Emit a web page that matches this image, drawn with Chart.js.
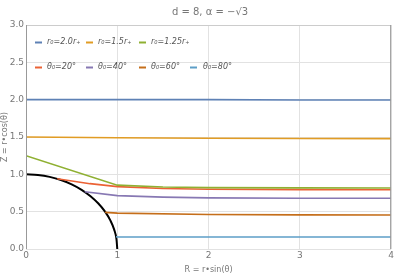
<!DOCTYPE html>
<html>
<head>
<meta charset="utf-8">
<script src="https://cdn.jsdelivr.net/npm/chart.js@4"></script>
<style>
  html, body { margin: 0; padding: 0; background: #fff; }
  #wrap { width: 395px; height: 275px; }
</style>
</head>
<body>
<div id="wrap"><canvas id="myChart" width="395" height="275"></canvas></div>
<script>
// series
const labels = ["r₀=2.0r₊", "r₀=1.5r₊", "r₀=1.25r₊", "θ₀=20°", "θ₀=40°", "θ₀=60°", "θ₀=80°"];
const colors = ["#5e81b5", "#e19c24", "#8fb032", "#eb6235", "#8778b3", "#c56e1a", "#5d9ec7"];

const r20X = [0, 1, 2, 3, 4];
const r20Y = [2.0, 2.0, 2.0, 1.995, 1.995];
const r15X = [0, 1, 2, 3, 4];
const r15Y = [1.5, 1.49, 1.483, 1.48, 1.478];
const r125X = [0, 1, 1.5, 2, 3, 4];
const r125Y = [1.25, 0.855, 0.83, 0.822, 0.818, 0.816];
const t20X = [0.342, 0.7, 1, 1.5, 2, 3, 4];
const t20Y = [0.94, 0.875, 0.835, 0.81, 0.8, 0.795, 0.793];
const t40X = [0.643, 1, 1.5, 2, 3, 4];
const t40Y = [0.766, 0.715, 0.695, 0.685, 0.68, 0.68];
const t60X = [0.866, 1, 2, 3, 4];
const t60Y = [0.49, 0.48, 0.462, 0.457, 0.455];
const t80X = [0.985, 1, 2, 3, 4];
const t80Y = [0.165, 0.162, 0.16, 0.16, 0.16];

// horizon r = r+ (unit quarter circle), every 7.5 degrees
const horizonX = [0, 0.131, 0.259, 0.383, 0.5, 0.609, 0.707, 0.793, 0.866, 0.924, 0.966, 0.991, 1];
const horizonY = [1, 0.991, 0.966, 0.924, 0.866, 0.793, 0.707, 0.609, 0.5, 0.383, 0.259, 0.131, 0];

const xTicks = [0, 1, 2, 3, 4];
const yTicks = [0, 0.5, 1, 1.5, 2, 2.5, 3];

const pts = (xs, ys) => xs.map((x, i) => ({ x: x, y: ys[i] }));
const seriesX = [r20X, r15X, r125X, t20X, t40X, t60X, t80X];
const seriesY = [r20Y, r15Y, r125Y, t20Y, t40Y, t60Y, t80Y];

const datasets = labels.map((lab, i) => ({
  label: lab,
  data: pts(seriesX[i], seriesY[i]),
  borderColor: colors[i],
  borderWidth: 1.6,
  showLine: true,
  pointRadius: 0,
  tension: 0,
}));
datasets.push({
  label: "horizon",
  data: pts(horizonX, horizonY),
  borderColor: "#000",
  borderWidth: 2,
  showLine: true,
  pointRadius: 0,
  cubicInterpolationMode: "monotone",
});

const FONT = "'DejaVu Sans', sans-serif";
const GREY = "#777";

// frame, title and in-plot legend
const decor = {
  id: "decor",
  afterDraw(chart) {
    const { ctx, chartArea: a } = chart;
    ctx.save();
    ctx.lineWidth = 1;
    ctx.strokeStyle = "#ccc";
    ctx.beginPath();
    ctx.moveTo(a.left, a.top + 0.5);
    ctx.lineTo(a.right, a.top + 0.5);
    ctx.stroke();
    ctx.strokeStyle = "#999";
    ctx.beginPath();
    ctx.moveTo(a.left + 0.5, a.top);
    ctx.lineTo(a.left + 0.5, a.bottom);
    ctx.moveTo(a.right - 0.5, a.top);
    ctx.lineTo(a.right - 0.5, a.bottom);
    ctx.stroke();

    ctx.fillStyle = GREY;
    ctx.font = "10px " + FONT;
    ctx.textAlign = "center";
    ctx.textBaseline = "middle";
    ctx.fillText("d = 8, α = −√3", 210, 12);

    const rows = [
      { y: 42, items: [[0, 35, 47], [1, 86, 98], [2, 139, 151]] },
      { y: 67, items: [[3, 35, 47], [4, 86, 98], [5, 139, 151], [6, 190, 203]] },
    ];
    ctx.font = "italic 8px " + FONT;
    ctx.textAlign = "left";
    rows.forEach((row) => {
      row.items.forEach(([i, mx, tx]) => {
        ctx.strokeStyle = colors[i];
        ctx.lineWidth = 2;
        ctx.beginPath();
        ctx.moveTo(mx, row.y + 0.5);
        ctx.lineTo(mx + 7, row.y + 0.5);
        ctx.stroke();
        ctx.fillStyle = "#555";
        ctx.fillText(labels[i], tx, row.y);
      });
    });
    ctx.restore();
  },
};

new Chart(document.getElementById("myChart"), {
  type: "scatter",
  data: { datasets: datasets },
  options: {
    responsive: false,
    animation: false,
    layout: { padding: { top: 25, right: 3, left: 0, bottom: 0 } },
    plugins: { legend: { display: false }, tooltip: { enabled: false } },
    scales: {
      x: {
        type: "linear",
        min: 0,
        max: 4,
        afterBuildTicks: (s) => { s.ticks = xTicks.map((v) => ({ value: v })); },
        afterFit: (s) => { s.height = 26; },
        ticks: { color: GREY, font: { size: 9, family: FONT }, padding: 1 },
        grid: { color: "#e2e2e2", drawTicks: false },
        border: { display: false },
        title: { display: true, text: "R = r•sin(θ)", color: GREY, font: { size: 8, family: FONT }, padding: { top: 1, bottom: 0 } },
      },
      y: {
        type: "linear",
        min: 0,
        max: 3,
        afterBuildTicks: (s) => { s.ticks = yTicks.map((v) => ({ value: v })); },
        afterFit: (s) => { s.width = 26; },
        ticks: { color: GREY, font: { size: 9, family: FONT }, padding: 2, callback: (v) => v.toFixed(1) },
        grid: { color: "#e2e2e2", drawTicks: false },
        border: { display: false },
        title: { display: true, text: "Z = r•cos(θ)", color: GREY, font: { size: 8, family: FONT }, padding: 0 },
      },
    },
  },
  plugins: [decor],
});
</script>
</body>
</html>
